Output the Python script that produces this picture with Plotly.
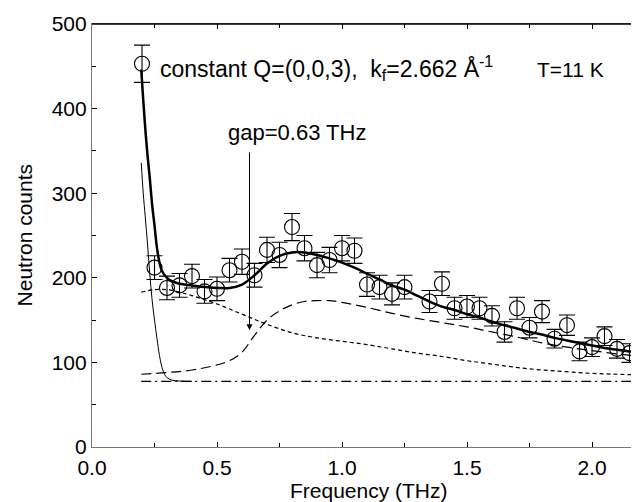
import plotly.graph_objects as go

# ---- measured data points ----
freq = [0.20, 0.25, 0.30, 0.35, 0.40, 0.45, 0.50, 0.55, 0.60, 0.65, 0.70, 0.75, 0.80,
        0.85, 0.90, 0.95, 1.00, 1.05, 1.10, 1.15, 1.20, 1.25, 1.35, 1.40, 1.45, 1.50,
        1.55, 1.60, 1.65, 1.70, 1.75, 1.80, 1.85, 1.90, 1.95, 2.00, 2.05, 2.10, 2.15, 2.20]
counts = [453, 212, 188, 191, 202, 184, 187, 209, 219, 203, 233, 227, 260,
          235, 215, 221, 235, 232, 192, 189, 181, 189, 172, 193, 164, 166,
          164, 155, 136, 164, 141, 160, 128, 144, 113, 118, 131, 116, 111, 90]
errors = [22, 14, 14, 14, 14, 14, 14, 14, 15, 14, 15, 15, 16,
          15, 15, 15, 15, 15, 14, 14, 13, 14, 13, 14, 13, 13,
          13, 12, 12, 13, 12, 13, 11, 12, 11, 11, 11, 11, 11, 10]

# ---- total fit (thick solid) ----
fit_x = [0.197, 0.205, 0.213, 0.222, 0.231, 0.240, 0.250, 0.260, 0.270, 0.280, 0.300,
         0.320, 0.350, 0.400, 0.450, 0.500, 0.550, 0.600, 0.650, 0.700, 0.750, 0.800,
         0.850, 0.900, 0.950, 1.000, 1.050, 1.100, 1.150, 1.200, 1.250, 1.300, 1.350,
         1.400, 1.450, 1.500, 1.550, 1.600, 1.650, 1.700, 1.750, 1.800, 1.850, 1.900,
         1.950, 2.000, 2.050, 2.100, 2.150, 2.200]
fit_y = [446, 410, 377, 345, 318, 288, 262, 235, 218, 208, 200,
         196, 193, 191, 189, 188, 188, 192, 203, 217, 226, 230,
         230, 227, 223, 218, 212, 205, 198, 191, 186, 179, 172,
         166, 162, 157, 153, 148, 144, 140, 136, 133, 129, 126,
         123, 120, 117, 115, 113, 111]

# ---- elastic / quasi-elastic tail (thin solid) ----
el_x = [0.197, 0.205, 0.213, 0.222, 0.231, 0.240, 0.250, 0.260, 0.270, 0.280, 0.290,
        0.300, 0.320, 0.350, 0.400]
el_y = [336, 300, 272, 240, 205, 175, 150, 128, 108, 94, 86, 82, 79, 78, 77.6]

# ---- short-dashed component ----
sd_x = [0.197, 0.25, 0.30, 0.35, 0.40, 0.50, 0.60, 0.70, 0.80, 0.90, 1.00, 1.10, 1.20,
        1.30, 1.40, 1.50, 1.60, 1.70, 1.80, 1.90, 2.00, 2.10, 2.20]
sd_y = [183, 186, 186, 183, 179, 169, 157, 145, 135, 129, 125, 121, 116,
        111, 107, 102, 98, 94, 91, 89, 87, 86, 85]

# ---- long-dashed component (gapped mode) ----
ld_x = [0.197, 0.30, 0.40, 0.50, 0.55, 0.60, 0.65, 0.70, 0.75, 0.80, 0.85, 0.90, 0.95,
        1.00, 1.10, 1.20, 1.30, 1.40, 1.50, 1.60, 1.70, 1.80, 1.90, 2.00, 2.10, 2.20]
ld_y = [86, 88, 91, 97, 102, 112, 132, 150, 161, 168, 172, 173, 173,
        171, 165, 158, 152, 147, 142, 136, 130, 123, 118, 114, 110, 107]

# ---- flat background (dash-dot) ----
bg_x = [0.197, 2.2]
bg_y = [77.6, 77.6]

x_ticks = [0.0, 0.5, 1.0, 1.5, 2.0]
y_ticks = [0, 100, 200, 300, 400, 500]

FONT = "Liberation Sans, Arial, Helvetica, sans-serif"

fig = go.Figure()

fig.add_trace(go.Scatter(x=bg_x, y=bg_y, mode="lines",
                         line=dict(color="black", width=1.2, dash="10px,4px,2px,4px")))
fig.add_trace(go.Scatter(x=ld_x, y=ld_y, mode="lines", line_shape="spline",
                         line=dict(color="black", width=1.2, dash="10px,5px")))
fig.add_trace(go.Scatter(x=sd_x, y=sd_y, mode="lines", line_shape="spline",
                         line=dict(color="black", width=1.2, dash="4px,3px")))
fig.add_trace(go.Scatter(x=el_x, y=el_y, mode="lines", line_shape="spline",
                         line=dict(color="black", width=1)))
fig.add_trace(go.Scatter(x=fit_x, y=fit_y, mode="lines", line_shape="spline",
                         line=dict(color="black", width=2.5)))
fig.add_trace(go.Scatter(x=freq, y=counts, mode="markers",
                         marker=dict(symbol="circle-open", size=15, color="black",
                                     line=dict(width=1.1, color="black")),
                         error_y=dict(type="data", array=errors, visible=True,
                                      color="black", thickness=1.1, width=8),
                         cliponaxis=True))

# gap arrow
fig.add_annotation(x=0.63, y=138, ax=0.63, ay=350, xref="x", yref="y",
                   axref="x", ayref="y", text="", showarrow=True,
                   arrowhead=2, arrowsize=1.2, arrowwidth=1, arrowcolor="black")

fig.add_annotation(x=0.535, y=372, xref="x", yref="y", text="gap=0.63 THz",
                   showarrow=False, xanchor="left", yanchor="middle",
                   font=dict(family=FONT, size=22, color="black"))
fig.add_annotation(x=0.265, y=448, xref="x", yref="y",
                   text="constant Q=(0,0,3),  k<sub>f</sub>=2.662 Å<sup>-1</sup>",
                   showarrow=False, xanchor="left", yanchor="middle",
                   font=dict(family=FONT, size=23, color="black"))
fig.add_annotation(x=1.77, y=446, xref="x", yref="y", text="T=11 K",
                   showarrow=False, xanchor="left", yanchor="middle",
                   font=dict(family=FONT, size=21, color="black"))

# axis titles
fig.add_annotation(x=0.504, y=-0.104, xref="paper", yref="paper", text="Frequency (THz)",
                   showarrow=False, xanchor="center", yanchor="middle",
                   font=dict(family=FONT, size=21, color="black"))
fig.add_annotation(x=-0.122, y=0.5, xref="paper", yref="paper", text="Neutron counts",
                   showarrow=False, xanchor="center", yanchor="middle", textangle=-90,
                   font=dict(family=FONT, size=21, color="black"))

# black top border
fig.add_shape(type="line", xref="paper", yref="paper", x0=0, x1=1, y0=1, y1=1,
              line=dict(color="black", width=1.5))

fig.update_layout(
    width=639, height=502,
    margin=dict(l=84, r=5, t=16, b=63),
    paper_bgcolor="white", plot_bgcolor="white",
    showlegend=False,
    font=dict(family=FONT, size=21, color="black"),
    xaxis=dict(range=[0, 2.2], tickvals=x_ticks, tickformat=".1f",
               ticks="inside", ticklen=5, tickcolor="black", tickwidth=1,
               minor=dict(dtick=0.25, ticks="inside", ticklen=4, tickcolor="black"),
               showline=True, linecolor="#777", linewidth=1.2, mirror="ticks",
               showgrid=False, zeroline=False, tickfont=dict(size=21),
               ticklabelstandoff=2),
    yaxis=dict(range=[0, 500], tickvals=y_ticks,
               ticks="inside", ticklen=5, tickcolor="black", tickwidth=1,
               minor=dict(dtick=50, ticks="inside", ticklen=4, tickcolor="black"),
               showline=True, linecolor="#777", linewidth=1.2, mirror="ticks",
               showgrid=False, zeroline=False, tickfont=dict(size=21)),
)

fig.write_html("out.html")
